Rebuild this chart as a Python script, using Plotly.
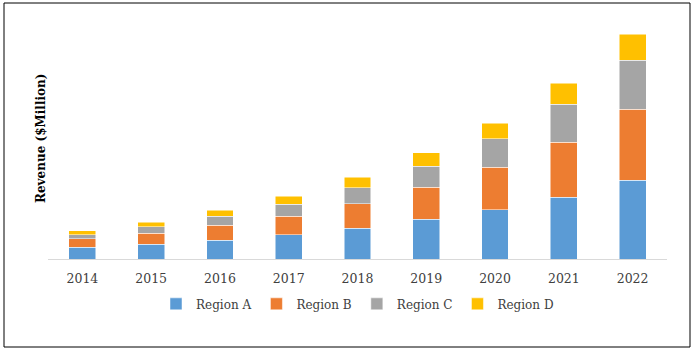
import plotly.graph_objects as go

years = ["2014", "2015", "2016", "2017", "2018", "2019", "2020", "2021", "2022"]
region_a = [11.7, 14.7, 18.7, 24.3, 30.7, 39.7, 49.3, 62.0, 78.6]
region_b = [8.6, 11.0, 15.0, 18.7, 24.6, 32.0, 42.7, 55.0, 71.4]
region_c = [4.0, 6.6, 9.3, 12.0, 16.0, 21.3, 28.3, 37.6, 48.6]
region_d = [4.0, 4.4, 5.7, 7.7, 10.4, 13.3, 15.7, 21.0, 26.4]

series = [
    ("Region A", region_a, "#5b9bd5"),
    ("Region B", region_b, "#ed7d31"),
    ("Region C", region_c, "#a5a5a5"),
    ("Region D", region_d, "#ffc000"),
]

W, H = 696, 352
L, R, T, B = 48, 29, 20, 93

fig = go.Figure()
for name, vals, col in series:
    fig.add_trace(go.Bar(x=years, y=vals, name=name,
                         marker=dict(color=col, line=dict(color="white", width=0.5))))

pw = W - L - R
ph = H - T - B
def px_x(p):
    return (p - L) / pw
def px_y(p):
    return (H - B - p) / ph

fig.update_layout(
    width=W, height=H,
    margin=dict(l=L, r=R, t=T, b=B),
    barmode="stack",
    bargap=0.61,
    plot_bgcolor="white",
    paper_bgcolor="white",
    font=dict(family="DejaVu Serif", color="#404040"),
    legend=dict(orientation="h", x=0.5, xanchor="center", y=-0.127, yanchor="top",
                font=dict(family="DejaVu Serif", size=12, color="#404040"),
                itemwidth=30, tracegroupgap=0, traceorder="normal"),
    xaxis=dict(showline=True, linecolor="#d9d9d9", linewidth=1, ticks="",
               ticklabelstandoff=8,
               tickfont=dict(family="DejaVu Serif", size=12.5, color="#404040")),
    yaxis=dict(range=[0, ph], showticklabels=False, showgrid=False, zeroline=False,
               showline=False, ticks=""),
    showlegend=True,
)
fig.add_annotation(text="<b>Revenue ($Million)</b>", textangle=-90,
                   xref="paper", yref="paper", x=px_x(41), y=px_y(139),
                   xanchor="center", yanchor="middle", showarrow=False,
                   font=dict(family="DejaVu Serif", size=12, color="black"))
fig.add_shape(type="rect", xref="paper", yref="paper",
              x0=px_x(4), x1=px_x(690), y0=px_y(3), y1=px_y(347),
              line=dict(color="black", width=1), fillcolor="rgba(0,0,0,0)", layer="below")

fig.write_html("out.html")
